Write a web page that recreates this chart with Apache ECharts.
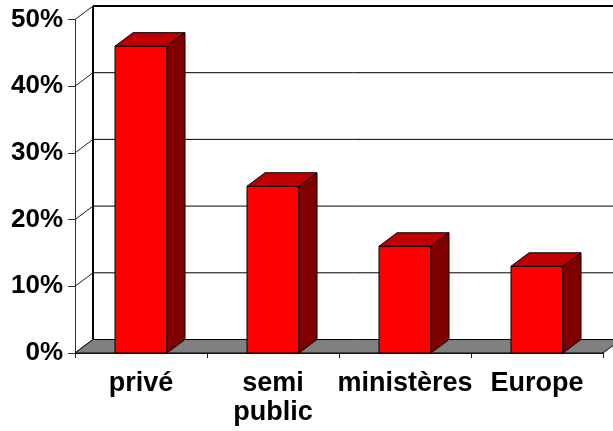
<!DOCTYPE html>
<html>
<head>
<meta charset="utf-8">
<script src="https://cdn.jsdelivr.net/npm/echarts@6/dist/echarts.min.js"></script>
<style>
html,body{margin:0;padding:0;background:#fff;}
#c{width:613px;height:431px;}
</style>
</head>
<body>
<div id="c"></div>
<script>
const categories = ['privé', 'semi\npublic', 'ministères', 'Europe'];
const values = [46, 25, 16, 13];
const yTicks = [0, 10, 20, 30, 40, 50];

const DX = 18, DY = -13.5;
const BAR_FRAC = 52 / 132;

const chart = echarts.init(document.getElementById('c'), null, {renderer: 'canvas'});

function wallItem(params, api) {
  const cs = params.coordSys;
  const x0 = cs.x, x1 = cs.x + cs.width;
  const v = api.value(0);
  const y = api.coord([0, v])[1];
  const children = [];
  const isTop = v === yTicks[yTicks.length - 1];
  children.push({
    type: 'line',
    shape: {x1: x0 + DX, y1: y + DY, x2: x1 + DX, y2: y + DY},
    style: {stroke: '#000', lineWidth: isTop ? 2 : 1}
  });
  children.push({
    type: 'line',
    shape: {x1: x0, y1: y, x2: x0 + DX, y2: y + DY},
    style: {stroke: '#222', lineWidth: 1}
  });
  if (v === 0) {
    const yTop = api.coord([0, yTicks[yTicks.length - 1]])[1];
    children.push({
      type: 'line',
      shape: {x1: x0 + DX, y1: y + DY, x2: x0 + DX, y2: yTop + DY},
      style: {stroke: '#000', lineWidth: 2}
    });
    children.push({
      type: 'polygon',
      shape: {points: [[x0, y], [x1, y], [x1 + DX, y + DY], [x0 + DX, y + DY]]},
      style: {fill: '#808080', stroke: '#000', lineWidth: 1}
    });
  }
  return {type: 'group', children: children};
}

function barItem(params, api) {
  const idx = api.value(0), v = api.value(1);
  const t = api.coord([idx, v]);
  const b = api.coord([idx, 0]);
  const bw = api.size([1, 0])[0] * BAR_FRAC;
  const l = t[0] - bw / 2, r = t[0] + bw / 2;
  const ty = t[1], by = b[1];
  const st = {stroke: '#000', lineWidth: 1, lineJoin: 'round'};
  return {
    type: 'group',
    children: [
      {type: 'polygon', shape: {points: [[l, ty], [r, ty], [r, by], [l, by]]},
        style: Object.assign({fill: '#ff0000'}, st)},
      {type: 'polygon', shape: {points: [[l, ty], [r, ty], [r + DX, ty + DY], [l + DX, ty + DY]]},
        style: Object.assign({fill: '#c00000'}, st)},
      {type: 'polygon', shape: {points: [[r, ty], [r + DX, ty + DY], [r + DX, by + DY], [r, by]]},
        style: Object.assign({fill: '#800000'}, st)}
    ]
  };
}

chart.setOption({
  animation: false,
  backgroundColor: '#fff',
  grid: {left: 75, right: 10, top: 19.5, bottom: 78, containLabel: false},
  xAxis: {
    type: 'category',
    data: categories,
    boundaryGap: true,
    axisLine: {show: true, lineStyle: {color: '#222', width: 1}},
    axisTick: {show: true, length: 5, lineStyle: {color: '#222'}},
    axisLabel: {
      interval: 0,
      margin: 16,
      color: '#000',
      fontFamily: 'Liberation Sans, Arial, sans-serif',
      fontWeight: 'bold',
      fontSize: 27,
      lineHeight: 29
    },
    splitLine: {show: false}
  },
  yAxis: {
    type: 'value',
    min: 0,
    max: 50,
    interval: 10,
    axisLine: {show: true, lineStyle: {color: '#333', width: 1}},
    axisTick: {show: true, length: 7, lineStyle: {color: '#333'}},
    axisLabel: {
      formatter: '{value}%',
      margin: 12,
      color: '#000',
      fontFamily: 'Liberation Sans, Arial, sans-serif',
      fontWeight: 'bold',
      fontSize: 26
    },
    splitLine: {show: false}
  },
  series: [
    {
      type: 'custom',
      name: 'walls',
      clip: false,
      silent: true,
      z: 1,
      renderItem: wallItem,
      data: yTicks.map(v => [v]),
      encode: {y: 0}
    },
    {
      type: 'custom',
      name: 'bars',
      clip: false,
      z: 3,
      renderItem: barItem,
      data: values.map((v, i) => [i, v]),
      encode: {x: 0, y: 1}
    }
  ]
});
</script>
</body>
</html>
